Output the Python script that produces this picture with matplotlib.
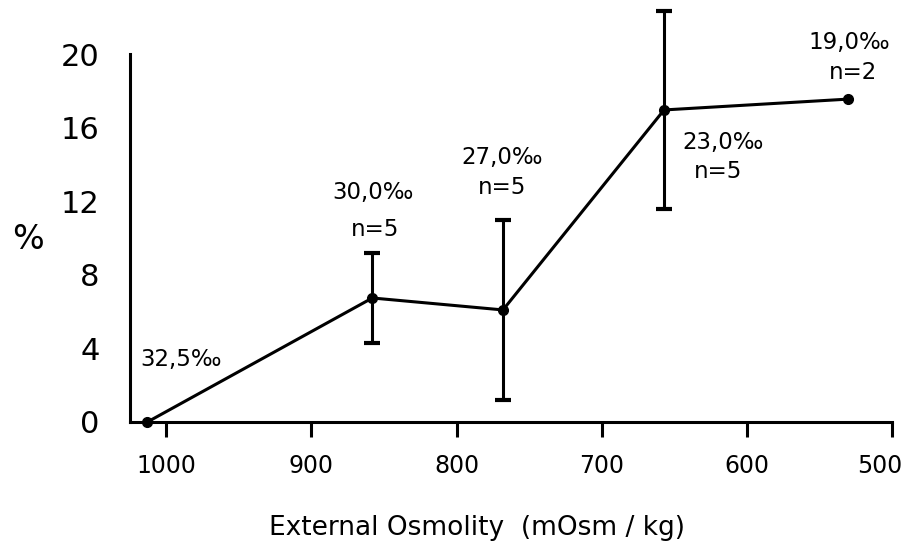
import numpy as np
import matplotlib
matplotlib.use('Agg')
import matplotlib.pyplot as plt
from matplotlib.transforms import ScaledTranslation

# mean % per external osmolality step (salinity in per mille, n animals)
osmolality = [1013, 858, 768, 657, 530]
percent = [0.0, 6.74, 6.09, 16.96, 17.55]
spread = [0.0, 2.45, 4.9, 5.4, 0.0]
salinity = ['32,5‰', '30,0‰', '27,0‰', '23,0‰', '19,0‰']
n_animals = [None, 5, 5, 5, 2]

x_ticks = [1000, 900, 800, 700, 600, 500]
y_ticks = [0, 4, 8, 12, 16, 20]

# label offsets in pixels from each point (salinity line, n line)
sal_offset = [(-7, 62), (1, 105), (-1, 152), (59, -33), (1, 57)]
n_offset = [None, (3, 68), (-1, 122), (54, -62), (5, 27)]

plt.rcParams['font.family'] = ['DejaVu Sans']

fig = plt.figure(figsize=(9.11, 5.44), dpi=100)
ax = fig.add_axes([0.1427, 0.2243, 0.979 - 0.1427, 0.9007 - 0.2243])

ax.plot(osmolality, percent, color='black', lw=2.2, marker='o', ms=7,
        clip_on=False, zorder=3)

mid = slice(1, 4)
ax.errorbar(osmolality[mid], percent[mid], yerr=spread[mid], fmt='none',
            ecolor='black', elinewidth=2.2, capsize=6, capthick=3,
            clip_on=False, zorder=3)

for i, x in enumerate(osmolality):
    dx, dy = sal_offset[i]
    ha = 'left' if i == 0 else 'center'
    ax.annotate(salinity[i], (x, percent[i]), xytext=(dx, dy),
                textcoords='offset pixels', ha=ha, va='center', fontsize=16.5)
    if n_animals[i] is not None:
        dx, dy = n_offset[i]
        ax.annotate(f'n={n_animals[i]}', (x, percent[i]), xytext=(dx, dy),
                    textcoords='offset pixels', ha='center', va='center',
                    fontsize=16.5)

ax.set_xlim(1025, 500)
ax.set_ylim(0, 20)
ax.set_xticks(x_ticks)
ax.set_yticks(y_ticks)
ax.tick_params(axis='x', direction='out', length=11, width=2.2, pad=12,
               labelsize=17)
ax.tick_params(axis='y', length=0, pad=22, labelsize=22)

# keep the last x label inside the figure
last = ax.get_xticklabels()[-1]
last.set_transform(last.get_transform() +
                   ScaledTranslation(-12 / 100, 0, fig.dpi_scale_trans))

for side in ['top', 'right']:
    ax.spines[side].set_visible(False)
for side in ['left', 'bottom']:
    ax.spines[side].set_linewidth(2.2)

ax.set_xlabel('External Osmolity  (mOsm / kg)', fontsize=19, labelpad=27)
ax.xaxis.label.set_x(0.455)
fig.text(0.031, 0.56, '%', fontsize=24, ha='center', va='center')

fig.savefig('out.png', dpi=100)
